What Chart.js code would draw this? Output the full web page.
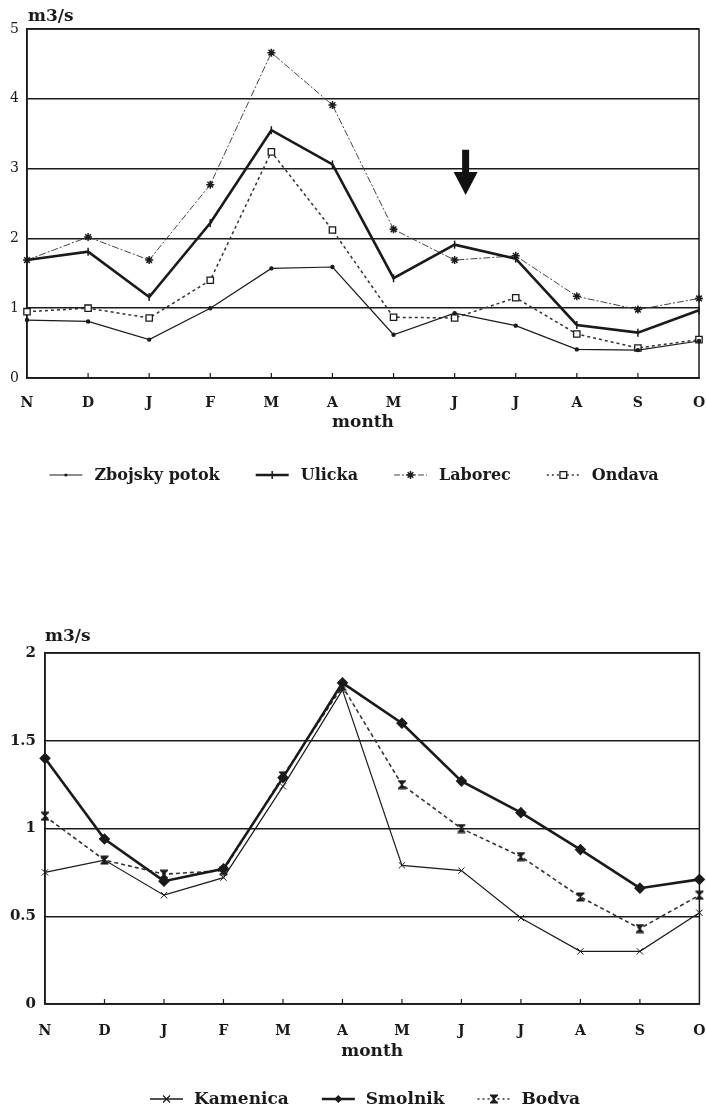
<!DOCTYPE html>
<html><head><meta charset="utf-8">
<script src="https://cdn.jsdelivr.net/npm/chart.js@4.4.0/dist/chart.umd.min.js"></script>
<style>
html,body{margin:0;padding:0;background:#fff;width:706px;height:1111px;overflow:hidden;}
#c1{position:absolute;left:0;top:0;}
#c2{position:absolute;left:0;top:590px;}
</style></head><body>
<canvas id="c1" width="706" height="500"></canvas>
<canvas id="c2" width="706" height="521"></canvas>
<script>
// ---- data ----
const months = ['N','D','J','F','M','A','M','J','J','A','S','O'];
const zbojsky = [0.83,0.81,0.55,1.00,1.57,1.59,0.62,0.93,0.75,0.41,0.40,0.53];
const ulicka  = [1.69,1.81,1.16,2.22,3.55,3.06,1.43,1.91,1.71,0.76,0.65,0.97];
const laborec = [1.69,2.02,1.69,2.77,4.66,3.91,2.13,1.69,1.75,1.17,0.98,1.14];
const ondava  = [0.95,1.00,0.86,1.40,3.24,2.12,0.87,0.86,1.15,0.63,0.43,0.55];
const kamenica = [0.75,0.82,0.62,0.72,1.24,1.79,0.79,0.76,0.49,0.30,0.30,0.52];
const smolnik  = [1.40,0.94,0.70,0.77,1.29,1.83,1.60,1.27,1.09,0.88,0.66,0.71];
const bodva    = [1.07,0.82,0.74,0.76,1.30,1.81,1.25,1.00,0.84,0.61,0.43,0.62];
const topTicks = [0,1,2,3,4,5];
const bottomTicks = [0,0.5,1,1.5,2];
const unitLabel = 'm3/s';
const axisTitle = 'month';
// annotation arrow (category index, value range)
const arrowIndex = 7.18, arrowTop = 3.27, arrowHeadStart = 2.95, arrowTip = 2.62;

const FONT = 'DejaVu Serif';
const INK = '#1a1a1a';
Chart.defaults.font.family = FONT;
Chart.defaults.color = INK;

function hourglass(){
  const c = document.createElement('canvas'); c.width = 10; c.height = 10;
  const g = c.getContext('2d'); g.fillStyle = INK;
  g.fillRect(1,0.5,8,1.6); g.fillRect(1,7.9,8,1.6);
  g.beginPath(); g.moveTo(1.5,2); g.lineTo(8.5,2); g.lineTo(5.6,5); g.lineTo(8.5,8); g.lineTo(1.5,8); g.lineTo(4.4,5); g.closePath(); g.fill();
  return c;
}
const HG = hourglass();

function drawMarker(ctx, m, x, y){
  ctx.save();
  ctx.translate(x,y);
  ctx.strokeStyle = INK; ctx.fillStyle = m.fill || INK; ctx.lineWidth = m.bw || 1;
  const r = m.r;
  ctx.beginPath();
  switch(m.style){
    case 'circle': ctx.arc(0,0,r,0,Math.PI*2); ctx.fill(); break;
    case 'vline': ctx.moveTo(0,-r); ctx.lineTo(0,r); ctx.stroke(); break;
    case 'star':
      for(let k=0;k<4;k++){ const a=k*Math.PI/4; ctx.moveTo(Math.cos(a)*r,Math.sin(a)*r); ctx.lineTo(-Math.cos(a)*r,-Math.sin(a)*r);} ctx.stroke(); break;
    case 'rect': ctx.rect(-r*0.75,-r*0.75,r*1.5,r*1.5); ctx.fill(); ctx.stroke(); break;
    case 'crossRot': ctx.moveTo(-r*0.7,-r*0.7); ctx.lineTo(r*0.7,r*0.7); ctx.moveTo(-r*0.7,r*0.7); ctx.lineTo(r*0.7,-r*0.7); ctx.stroke(); break;
    case 'rectRot': ctx.moveTo(0,-r); ctx.lineTo(r,0); ctx.lineTo(0,r); ctx.lineTo(-r,0); ctx.closePath(); ctx.fill(); break;
    case 'image': ctx.drawImage(HG,-5,-5); break;
  }
  ctx.restore();
}

const framePlugin = {
  id:'frame',
  beforeDatasetsDraw(chart){
    const a = chart.chartArea, ctx = chart.ctx;
    ctx.save(); ctx.strokeStyle = INK; ctx.lineWidth = 1.5;
    ctx.strokeRect(a.left, a.top, a.right-a.left, a.bottom-a.top);
    // inward tick marks on the x axis
    const xs = chart.scales.x;
    ctx.lineWidth = 1.2;
    for(let i=1;i<xs.ticks.length-1;i++){
      const px = xs.getPixelForTick(i);
      ctx.beginPath(); ctx.moveTo(px,a.bottom); ctx.lineTo(px,a.bottom-5); ctx.stroke();
    }
    ctx.restore();
  },
  afterDraw(chart, args, opts){
    const a = chart.chartArea, ctx = chart.ctx;
    ctx.save();
    // unit label
    ctx.fillStyle = INK; ctx.font = 'bold '+opts.unitSize+'px '+FONT;
    ctx.textAlign='left'; ctx.textBaseline='middle';
    ctx.fillText(unitLabel, a.left+opts.unitDx, a.top-opts.unitDy);
    // legend
    const L = opts.legend;
    ctx.font = 'bold '+L.size+'px '+FONT;
    const widths = L.items.map(it => L.lineLen + L.gap + ctx.measureText(it.label).width);
    const total = widths.reduce((s,w)=>s+w,0) + L.itemGap*(L.items.length-1);
    let x = L.cx - total/2;
    L.items.forEach((it,i)=>{
      ctx.save();
      ctx.strokeStyle = it.color; ctx.lineWidth = it.width; ctx.setLineDash(it.dash||[]);
      ctx.beginPath(); ctx.moveTo(x, L.y); ctx.lineTo(x+L.lineLen, L.y); ctx.stroke();
      ctx.restore();
      drawMarker(ctx, it.marker, x+L.lineLen/2, L.y);
      ctx.fillStyle = INK; ctx.textAlign='left'; ctx.textBaseline='middle';
      ctx.fillText(it.label, x+L.lineLen+L.gap, L.y+1);
      x += widths[i] + L.itemGap;
    });
    // arrow annotation
    if (opts.arrow){
      const xs = chart.scales.x, ys = chart.scales.y;
      const ax = xs.getPixelForValue(arrowIndex);
      const y0 = ys.getPixelForValue(arrowTop), y1 = ys.getPixelForValue(arrowHeadStart), y2 = ys.getPixelForValue(arrowTip);
      ctx.fillStyle = '#111';
      ctx.fillRect(ax-3.5, y0, 7, y1-y0+1);
      ctx.beginPath(); ctx.moveTo(ax-12,y1); ctx.lineTo(ax+12,y1); ctx.lineTo(ax,y2); ctx.closePath(); ctx.fill();
    }
    ctx.restore();
  }
};

function ds(label, data, o){
  return Object.assign({label, data, borderColor: INK, backgroundColor: INK, pointBorderColor: INK, pointBackgroundColor: INK,
    tension:0, clip:false, fill:false}, o);
}

function makeChart(id, cfg){
  return new Chart(document.getElementById(id), {
    type:'line',
    data:{ labels: months, datasets: cfg.datasets },
    options:{
      responsive:false, animation:false, devicePixelRatio:1,
      layout:{ padding:cfg.padding },
      plugins:{ legend:{display:false}, tooltip:{enabled:false}, frame: cfg.frame },
      scales:{
        x:{ type:'category', offset:false,
            grid:{display:false},
            border:{display:true, color:INK, width:1.5},
            ticks:{ font:{size:cfg.xSize, weight:'bold'}, color:INK, padding:cfg.xPad, maxRotation:0, autoSkip:false },
            title:{ display:true, text:axisTitle, font:{size:cfg.titleSize, weight:'bold'}, color:INK, padding:{top:0,bottom:cfg.titlePad} },
            afterFit(s){ s.height = cfg.xHeight; s.paddingLeft = 0; s.paddingRight = 0; } },
        y:{ min:cfg.yMin, max:cfg.yMax,
            afterBuildTicks(s){ s.ticks = cfg.yTicks.map(v=>({value:v})); },
            grid:{ color:INK, lineWidth:1.5, drawTicks:false },
            border:{display:true, color:INK, width:1.5},
            ticks:{ font:{size:cfg.ySize, weight:cfg.yWeight}, color:INK, padding:cfg.yPad, callback:(v)=>String(v) },
            afterFit(s){ s.width = cfg.yWidth; s.paddingTop = 0; s.paddingBottom = 0; } }
      }
    },
    plugins:[framePlugin]
  });
}

makeChart('c1', {
  padding:{left:0, right:7, top:29, bottom:0},
  xHeight:122, xSize:14, xPad:9, titleSize:17, titlePad:67,
  yMin:0, yMax:5, yTicks:topTicks, ySize:14, yWeight:'normal', yPad:8, yWidth:27,
  datasets:[
    ds('Zbojsky potok', zbojsky, {borderWidth:1.2, pointStyle:'circle', pointRadius:1.6}),
    ds('Ulicka', ulicka, {borderWidth:2.6, pointStyle:'line', rotation:90, pointRadius:4, pointBorderWidth:1.5}),
    ds('Laborec', laborec, {borderWidth:1, borderColor:'#444', borderDash:[7,2,2,2], pointStyle:'star', pointRadius:4, pointBorderWidth:1.5}),
    ds('Ondava', ondava, {borderWidth:1.5, borderColor:'#333', borderDash:[3,3], pointStyle:'rect', pointRadius:4.5, pointBackgroundColor:'#fff', pointBorderWidth:1.3})
  ],
  frame:{ unitSize:17, unitDx:1, unitDy:12, arrow:true,
    legend:{ y:475, cx:354, size:16, lineLen:33, gap:12, itemGap:36, items:[
      {label:'Zbojsky potok', color:INK, width:1.2, marker:{style:'circle', r:1.6}},
      {label:'Ulicka', color:INK, width:2.6, marker:{style:'vline', r:4, bw:1.5}},
      {label:'Laborec', color:'#444', width:1.2, dash:[6,2,2,2], marker:{style:'star', r:4, bw:1.5}},
      {label:'Ondava', color:'#333', width:1.3, dash:[2,3], marker:{style:'rect', r:4.5, fill:'#fff', bw:1.3}}
    ]}}
});

makeChart('c2', {
  padding:{left:0, right:4, top:63, bottom:0},
  xHeight:107, xSize:14, xPad:11, titleSize:17, titlePad:49,
  yMin:0, yMax:2, yTicks:bottomTicks, ySize:15, yWeight:'bold', yPad:9, yWidth:45,
  datasets:[
    ds('Kamenica', kamenica, {borderWidth:1.2, pointStyle:'crossRot', pointRadius:4.5, pointBorderWidth:1}),
    ds('Smolnik', smolnik, {borderWidth:2.6, pointStyle:'rectRot', pointRadius:4}),
    ds('Bodva', bodva, {borderWidth:1.6, borderColor:'#333', borderDash:[4,3], pointStyle:HG})
  ],
  frame:{ unitSize:17, unitDx:0, unitDy:16, arrow:false,
    legend:{ y:509, cx:365, size:17, lineLen:33, gap:11, itemGap:33, items:[
      {label:'Kamenica', color:INK, width:1.6, marker:{style:'crossRot', r:5, bw:1.2}},
      {label:'Smolnik', color:INK, width:2.6, marker:{style:'rectRot', r:4}},
      {label:'Bodva', color:'#333', width:1.3, dash:[2,3], marker:{style:'image'}}
    ]}}
});
</script>
</body></html>
